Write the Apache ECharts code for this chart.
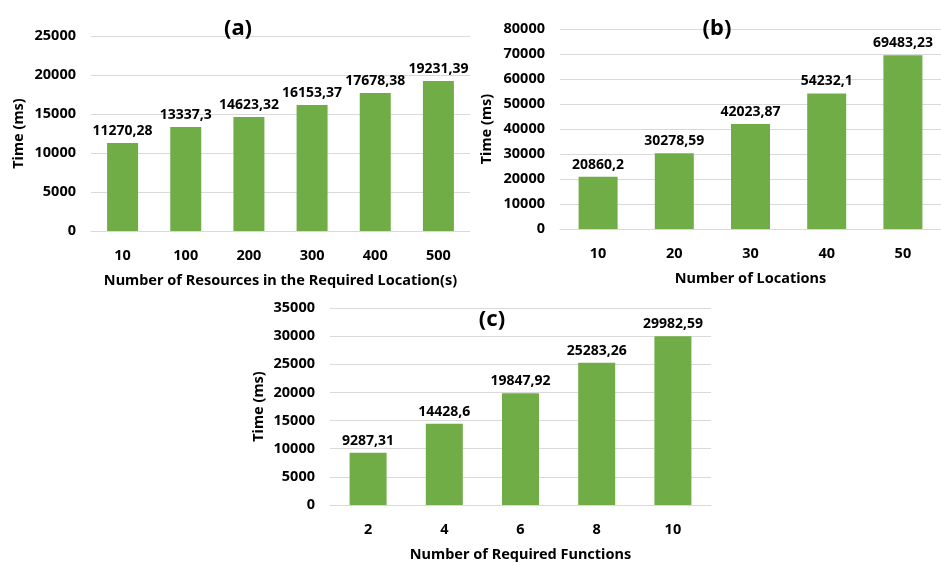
<!DOCTYPE html>
<html>
<head>
<meta charset="utf-8">
<script src="https://cdn.jsdelivr.net/npm/echarts@6/dist/echarts.min.js"></script>
<style>
html,body{margin:0;padding:0;background:#fff;}
#c{width:941px;height:563px;}
</style>
</head>
<body>
<div id="c"></div>
<script>
// Data
const catsA = ['10', '100', '200', '300', '400', '500'];
const valsA = [11270.28, 13337.3, 14623.32, 16153.37, 17678.38, 19231.39];
const catsB = ['10', '20', '30', '40', '50'];
const valsB = [20860.2, 30278.59, 42023.87, 54232.1, 69483.23];
const catsC = ['2', '4', '6', '8', '10'];
const valsC = [9287.31, 14428.6, 19847.92, 25283.26, 29982.59];
const titles = ['(a)', '(b)', '(c)'];
const xNames = ['Number of Resources in the Required Location(s)', 'Number of Locations', 'Number of Required Functions'];
const yName = 'Time (ms)';

const FONT = 'Noto Sans';
const TXT = '#000';
const GRID = '#d9d9d9';
const BAR = '#70ad47';

const chart = echarts.init(document.getElementById('c'), null, {renderer: 'canvas'});

function xAxis(idx, cats, name) {
  return {
    type: 'category', gridIndex: idx, data: cats,
    name: name, nameLocation: 'middle', nameGap: 42,
    nameTextStyle: {fontFamily: FONT, fontWeight: 'bold', fontSize: 14.5, color: TXT},
    axisLine: {show: true, lineStyle: {color: GRID, width: 1}},
    axisTick: {show: false},
    axisLabel: {fontFamily: FONT, fontWeight: 'bold', fontSize: 14.5, color: TXT, margin: 17}
  };
}
function yAxis(idx, max, interval, gap) {
  return {
    type: 'value', gridIndex: idx, min: 0, max: max, interval: interval,
    name: yName, nameLocation: 'middle', nameGap: gap, nameRotate: 90,
    nameTextStyle: {fontFamily: FONT, fontWeight: 'bold', fontSize: 14.5, color: TXT},
    axisLine: {show: false}, axisTick: {show: false},
    splitLine: {show: true, lineStyle: {color: GRID, width: 1}},
    axisLabel: {fontFamily: FONT, fontWeight: 'bold', fontSize: 14.5, color: TXT, margin: 15,
      formatter: v => String(v)}
  };
}
function bars(idx, vals, w) {
  return {
    type: 'bar', xAxisIndex: idx, yAxisIndex: idx, data: vals, barWidth: w,
    itemStyle: {color: BAR},
    label: {
      show: true, position: 'top', distance: 5,
      fontFamily: FONT, fontWeight: 'bold', fontSize: 14, color: TXT,
      formatter: p => String(p.value).replace('.', ',')
    },
    silent: true, animation: false
  };
}
function title(text, x, y) {
  return {text: text, left: x, top: y, textAlign: 'center', padding: 0,
    textStyle: {fontFamily: FONT, fontWeight: 'bold', fontSize: 22, color: TXT}};
}

chart.setOption({
  animation: false,
  backgroundColor: '#fff',
  title: [title(titles[0], 238, 18), title(titles[1], 717, 18), title(titles[2], 492, 309)],
  grid: [
    {left: 91, top: 36, width: 379, height: 195},
    {left: 560, top: 29, width: 390, height: 200},
    {left: 330, top: 308, width: 381, height: 198}
  ],
  xAxis: [xAxis(0, catsA, xNames[0]), xAxis(1, catsB, xNames[1]), xAxis(2, catsC, xNames[2])],
  yAxis: [yAxis(0, 25000, 5000, 65), yAxis(1, 80000, 10000, 66), yAxis(2, 35000, 5000, 64)],
  series: [bars(0, valsA, 31), bars(1, valsB, 39), bars(2, valsC, 37)]
});
</script>
</body>
</html>
